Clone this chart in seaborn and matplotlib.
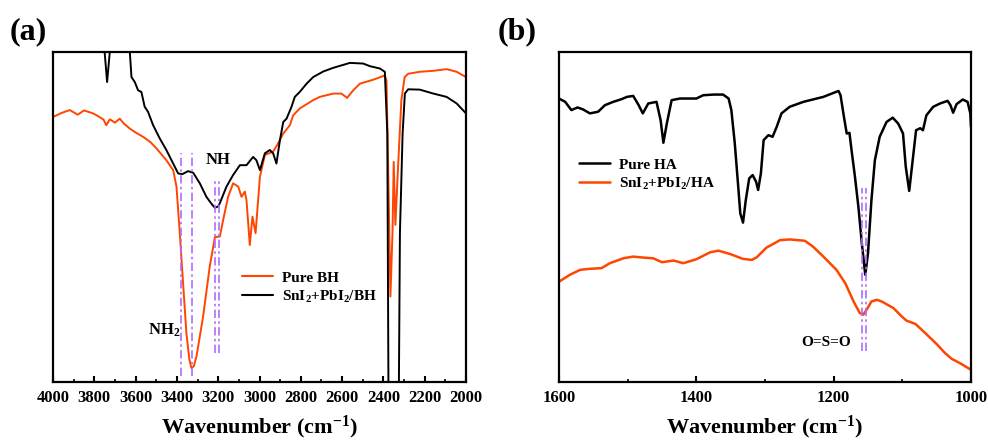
import numpy as np
import pandas as pd
import matplotlib
matplotlib.use("Agg")
import matplotlib.pyplot as plt
import seaborn as sns
from matplotlib.ticker import MultipleLocator
from matplotlib.lines import Line2D

# ---------------- data: panel (a) ----------------
bh_wn = [4000, 3960, 3919, 3880, 3850, 3806, 3780, 3755, 3742, 3725, 3700, 3677, 3655, 3628, 3600,
         3564, 3530, 3499, 3451, 3418, 3402, 3386, 3370, 3354, 3340, 3330, 3318, 3305, 3273, 3241, 3216,
         3192, 3176, 3152, 3128, 3103, 3087, 3071, 3063, 3047, 3034, 3019, 2998, 2974, 2934,
         2910, 2885, 2853, 2837, 2805, 2740, 2708, 2643, 2603, 2576, 2546, 2514, 2449, 2393,
         2385, 2377, 2366, 2356, 2350, 2342, 2329, 2313, 2297, 2280, 2224, 2158, 2094, 2045, 2000]
bh_val = [80.3, 81.5, 82.4, 81.0, 82.3, 81.4, 80.5, 79.5, 77.8, 79.6, 78.6, 79.8, 78.2, 76.8, 75.6,
          74.3, 72.8, 70.8, 67.2, 64.2, 59.2, 45.1, 29.9, 14.8, 7.0, 4.2, 4.8, 7.8, 19.9, 35.0, 43.9,
          44.1, 49.1, 56.1, 60.2, 59.2, 56.1, 57.7, 55.1, 41.5, 50.1, 45.1, 62.2, 68.8, 69.8,
          72.3, 75.3, 77.8, 80.8, 82.9, 85.4, 86.4, 87.4, 87.4, 86.1, 88.4, 90.4, 91.6, 92.9,
          91.4, 65.2, 25.9, 45.1, 66.7, 47.6, 65.2, 85.4, 92.4, 93.4, 94.0, 94.3, 94.8, 94.0, 92.4]

cbh_wn = [4000, 3800, 3760, 3750, 3738, 3725, 3710, 3660, 3635, 3628, 3620, 3604, 3588, 3572, 3556,
          3540, 3515, 3483, 3451, 3418, 3394, 3373, 3346, 3321, 3289, 3257, 3230, 3216, 3200, 3192,
          3160, 3128, 3095, 3063, 3031, 3015, 2998, 2974, 2950, 2934, 2918, 2901, 2885,
          2869, 2845, 2829, 2805, 2772, 2740, 2691, 2643, 2562, 2498, 2465, 2417, 2393,
          2381, 2375, 2350, 2326, 2320, 2307, 2296, 2280, 2224, 2158, 2094, 2045, 2000]
cbh_val = [115, 115, 112, 100, 90.9, 100, 115, 115, 110, 100, 92.4, 90.9, 88.4, 87.9, 83.4,
           81.9, 77.8, 73.8, 70.3, 66.2, 63.2, 63.0, 63.9, 63.4, 60.2, 56.1, 53.8, 52.8, 53.2, 54.2,
           59.2, 62.7, 65.7, 65.7, 68.2, 67.2, 64.2, 69.3, 70.3, 69.3, 66.2, 73.3, 78.8,
           79.8, 83.4, 86.4, 87.9, 90.4, 92.4, 94.1, 95.2, 96.7, 96.5, 95.7, 95.0, 94.0,
           75.3, -10, -10, -10, 45.1, 75.3, 87.4, 88.7, 88.6, 87.4, 86.4, 84.4, 81.4]

# ---------------- data: panel (b) ----------------
ha_wn = [1600, 1591, 1582, 1573, 1565, 1555, 1543, 1533, 1521, 1509, 1501, 1492, 1484, 1478,
         1470, 1458, 1452, 1448, 1443, 1436, 1424, 1409, 1400, 1390, 1375, 1361, 1353, 1349,
         1344, 1339, 1336, 1332, 1328, 1323, 1318, 1313, 1310, 1306, 1302, 1295, 1289, 1283,
         1276, 1264, 1244, 1215, 1193, 1190, 1185, 1181, 1177, 1174, 1169, 1164, 1159, 1154,
         1150, 1145, 1140, 1133, 1123, 1114, 1106, 1099, 1095, 1090, 1086, 1080, 1074, 1070,
         1065, 1055, 1045, 1034, 1030, 1026, 1021, 1012, 1005, 1001, 1000]
ha_val = [85.9, 84.9, 82.4, 83.2, 82.6, 81.4, 81.9, 83.9, 84.9, 85.7, 86.4, 86.7, 83.9, 81.4,
          84.4, 84.9, 79.3, 72.5, 78.3, 85.4, 85.9, 85.9, 85.9, 86.9, 87.1, 87.1, 85.9, 82.4,
          72.3, 59.2, 51.1, 48.3, 55.1, 61.7, 62.7, 60.7, 58.2, 63.2, 73.3, 74.8, 74.3, 77.3,
          81.4, 83.4, 84.9, 86.4, 88.2, 86.9, 80.3, 75.3, 75.5, 70.3, 62.2, 53.1, 42.0, 32.5,
          39.0, 55.1, 67.2, 74.3, 78.8, 80.1, 78.3, 75.3, 65.2, 57.9, 65.2, 76.3, 76.9, 76.3,
          80.8, 83.4, 84.4, 85.2, 83.9, 81.6, 84.2, 85.6, 84.9, 81.4, 77.3]

cha_wn = [1600, 1584, 1569, 1555, 1538, 1526, 1506, 1492, 1477, 1463, 1450, 1433, 1419, 1400,
          1380, 1368, 1351, 1332, 1319, 1312, 1298, 1278, 1264, 1242, 1230, 1215, 1196, 1183,
          1171, 1162, 1157, 1152, 1145, 1137, 1130, 1113, 1101, 1094, 1081, 1069, 1050, 1038,
          1028, 1016, 1000]
cha_val = [30.4, 32.5, 34.0, 34.3, 34.5, 36.0, 37.5, 38.0, 37.7, 37.5, 36.3, 36.8, 36.0, 37.2,
           39.3, 39.8, 38.8, 37.3, 37.0, 37.8, 40.7, 43.0, 43.2, 42.8, 41.0, 38.0, 34.0, 29.9,
           24.4, 20.9, 20.4, 21.9, 24.4, 24.9, 24.4, 22.4, 19.9, 18.6, 17.6, 15.3, 11.5, 8.8,
           7.0, 5.7, 3.7]

a_ticks = [4000, 3800, 3600, 3400, 3200, 3000, 2800, 2600, 2400, 2200, 2000]
b_ticks = [1600, 1400, 1200, 1000]

a_guides = [3381, 3326, 3216, 3195]
a_guide_span = [(1.7, 69.3), (1.7, 69.3), (8.8, 61.5), (8.8, 61.5)]
b_guides = [1159, 1153]
b_guide_span = [(9.3, 58.9), (9.3, 58.9)]

ORANGE = "#FF4500"
BLACK = "#000000"
PURPLE = "#B06CFF"

sns.set_theme(style="white")
plt.rcParams["font.family"] = ["Liberation Serif", "DejaVu Serif"]
plt.rcParams["font.weight"] = "bold"
plt.rcParams["text.color"] = "black"
plt.rcParams["axes.labelcolor"] = "black"
plt.rcParams["xtick.color"] = "black"
plt.rcParams["mathtext.fontset"] = "custom"
plt.rcParams["mathtext.rm"] = "Liberation Serif:bold"
plt.rcParams["mathtext.it"] = "Liberation Serif:bold"
plt.rcParams["mathtext.bf"] = "Liberation Serif:bold"

fig = plt.figure(figsize=(9.88, 4.43), dpi=100)
axA = fig.add_axes([53/988, 61/443, 413/988, 330/443])
axB = fig.add_axes([559/988, 61/443, 412/988, 330/443])

dfA1 = pd.DataFrame({"wn": bh_wn, "T": bh_val})
dfA2 = pd.DataFrame({"wn": cbh_wn, "T": cbh_val})
dfB1 = pd.DataFrame({"wn": ha_wn, "T": ha_val})
dfB2 = pd.DataFrame({"wn": cha_wn, "T": cha_val})

sns.lineplot(data=dfA1, x="wn", y="T", ax=axA, color=ORANGE, lw=1.4, sort=False)
sns.lineplot(data=dfA2, x="wn", y="T", ax=axA, color=BLACK, lw=1.4, sort=False)
sns.lineplot(data=dfB1, x="wn", y="T", ax=axB, color=BLACK, lw=1.8, sort=False)
sns.lineplot(data=dfB2, x="wn", y="T", ax=axB, color=ORANGE, lw=1.8, sort=False)

dash = (0, (5, 2, 1.5, 2))
for x, (y0, y1) in zip(a_guides, a_guide_span):
    axA.plot([x, x], [y0, y1], color=PURPLE, lw=1.2, ls=dash)
for x, (y0, y1) in zip(b_guides, b_guide_span):
    axB.plot([x, x], [y0, y1], color=PURPLE, lw=1.2, ls=dash)

axA.set_xlim(4000, 2000)
axB.set_xlim(1600, 1000)
for ax in (axA, axB):
    ax.set_ylim(0, 100)
    ax.set_yticks([])
    ax.set_ylabel("")
    ax.set_xlabel("Wavenumber (cm$^{-1}$)", fontsize=16, fontweight="bold", labelpad=5,
                  color="black")
    for s in ax.spines.values():
        s.set_linewidth(1.6)
        s.set_color("black")
    ax.tick_params(axis="x", direction="in", length=4, width=1.5, labelsize=12, pad=6,
                   bottom=True, top=False, colors="black")
    ax.tick_params(axis="x", which="minor", direction="in", length=2, width=1.2, bottom=True, top=False)

axA.set_xticks(a_ticks)
axA.set_xticklabels([str(t) for t in a_ticks], fontweight="bold", color="black")
axA.xaxis.set_minor_locator(MultipleLocator(100))
axB.set_xticks(b_ticks)
axB.set_xticklabels([str(t) for t in b_ticks], fontweight="bold", color="black")
axB.xaxis.set_minor_locator(MultipleLocator(100))

axA.text(3200, 67.2, "NH", fontsize=12, fontweight="bold", ha="center", va="center", color="black")
axA.text(3462, 15.8, "NH$_2$", fontsize=12, fontweight="bold", ha="center", va="center", color="black")
axB.text(1211, 12.0, "O=S=O", fontsize=11, fontweight="bold", ha="center", va="center", color="black")

hA = [Line2D([], [], color=ORANGE, lw=1.5), Line2D([], [], color=BLACK, lw=1.5)]
legA = axA.legend(hA, ["Pure BH", "SnI$_2$+PbI$_2$/BH"], loc="center left",
                  bbox_to_anchor=(0.425, 0.285), frameon=False, handlelength=2.0,
                  handletextpad=0.6, labelspacing=0.25, prop={"weight": "bold", "size": 11})
hB = [Line2D([], [], color=BLACK, lw=1.8), Line2D([], [], color=ORANGE, lw=1.8)]
legB = axB.legend(hB, ["Pure HA", "SnI$_2$+PbI$_2$/HA"], loc="center left",
                  bbox_to_anchor=(0.016, 0.628), frameon=False, handlelength=2.0,
                  handletextpad=0.6, labelspacing=0.25, prop={"weight": "bold", "size": 11})
for leg in (legA, legB):
    for t in leg.get_texts():
        t.set_color("black")

fig.text(10/988, 1 - 17/443, "(a)", fontsize=23, fontweight="bold", va="top", ha="left", color="black")
fig.text(498/988, 1 - 17/443, "(b)", fontsize=23, fontweight="bold", va="top", ha="left", color="black")

fig.savefig("out.png", dpi=100)
